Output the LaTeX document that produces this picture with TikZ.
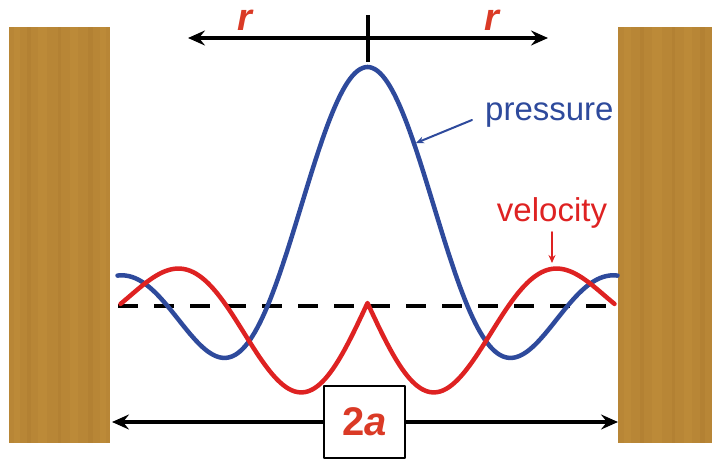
\documentclass[tikz,border=0pt]{standalone}
\usepackage{fontspec}
\setsansfont{Liberation Sans}
\usetikzlibrary{arrows.meta}

\definecolor{woodbase}{RGB}{184,134,54}
\definecolor{woodlight}{RGB}{196,146,62}
\definecolor{wooddark}{RGB}{170,121,47}
\definecolor{presblue}{RGB}{46,74,156}
\definecolor{velred}{RGB}{222,34,34}
\definecolor{labelred}{RGB}{218,58,38}

\tikzset{
  wall/.style={fill=woodbase, draw=none},
  prescurve/.style={draw=presblue, line width=4.5pt},
  velcurve/.style={draw=velred, line width=4.5pt},
  axisline/.style={draw=black, line width=3.5pt, {Stealth[length=17pt,width=15pt,inset=6pt]}-{Stealth[length=17pt,width=15pt,inset=6pt]}},
  halfline/.style={draw=black, line width=3.5pt, -{Stealth[length=17pt,width=15pt,inset=6pt]}},
  pointer/.style={line width=2pt, -{Stealth[length=8pt,width=7pt]}},
  curvelabel/.style={inner sep=0pt, font=\sffamily\fontsize{33}{38}\selectfont},
}

\begin{document}
\begin{tikzpicture}[x=1pt, y=-1pt, line cap=round, line join=round,
  declare function={
    pres(\x)=sin(1.8*max(abs(\x),0.5))/(0.0314159*max(abs(\x),0.5));
    vraw(\x)=(\x*cos(deg(\x)) - sin(deg(\x)))/(\x*\x);
    vel(\x)=(abs(\x)<4) ? (-0.0314159*abs(\x)/3) : vraw(0.0314159*max(abs(\x),4));
  }]

  %% ════ 两侧木墙 ════
  \fill[wall] (9,27) rectangle (110,443);
  \fill[wall] (618,27) rectangle (712,443);
  \foreach \xx/\ww/\cc in {14/6/woodlight, 27/4/wooddark, 38/9/woodlight, 58/3/wooddark,
                           70/8/woodlight, 88/5/wooddark, 100/6/woodlight,
                           624/7/woodlight, 640/4/wooddark, 652/10/woodlight, 672/3/wooddark,
                           684/8/woodlight, 700/5/wooddark}
    \fill[\cc, opacity=0.35] (\xx,27) rectangle (\xx+\ww,443);

  %% ════ 上方 r 轴 ════
  \coordinate (rleft) at (188,38);
  \coordinate (rright) at (548,38);
  \coordinate (center) at (368,38);
  \draw[axisline] (rleft) -- (rright);
  \draw[line width=4.5pt, line cap=butt] ([yshift=23pt]center) -- ([yshift=-24pt]center);
  \node[inner sep=0pt, text=labelred, font=\sffamily\bfseries\itshape\fontsize{38}{42}\selectfont] (rlabl) at (245,20) {r};
  \node[inner sep=0pt, text=labelred, font=\sffamily\bfseries\itshape\fontsize{38}{42}\selectfont] (rlabr) at (492,20) {r};

  %% ════ 零线（虚线）════
  \draw[line width=4.5pt, line cap=butt, dash pattern=on 20pt off 16pt] (118,306) -- (610,306);

  %% ════ 曲线 ════
  \draw[prescurve] plot[domain=-250:250, samples=201] ({367.5+\x}, {306-239*pres(\x)});
  \draw[velcurve] plot[domain=-247:247, samples=199] ({367.5+\x}, {303-205*vel(\x)});

  %% ════ 标签 ════
  \node[curvelabel, text=presblue, anchor=base west] (plabel) at (485,120) {pressure};
  \coordinate (ptip) at (416,143);
  \draw[pointer, presblue] ([xshift=-13pt]plabel.base west) -- (ptip);

  \node[curvelabel, text=velred, anchor=base] (vlabel) at (552,221) {velocity};
  \coordinate (vtip) at (552,263);
  \draw[pointer, velred] ([yshift=-4pt]vlabel.south) -- (vtip);

  %% ════ 下方 2a ════
  \node[draw=black, line width=2.5pt, minimum width=81pt, minimum height=72pt, inner sep=0pt,
        text=labelred, font=\sffamily\bfseries\fontsize{40}{44}\selectfont] (width) at (364.5,422) {2\textit{a}};
  \coordinate (aleft) at (112,422);
  \coordinate (aright) at (618,422);
  \draw[halfline] (width.west) -- (aleft);
  \draw[halfline] (width.east) -- (aright);

  % 钉死画布
  \pgfresetboundingbox
  \path[use as bounding box] (0,0) rectangle (716,461);
\end{tikzpicture}
\end{document}
